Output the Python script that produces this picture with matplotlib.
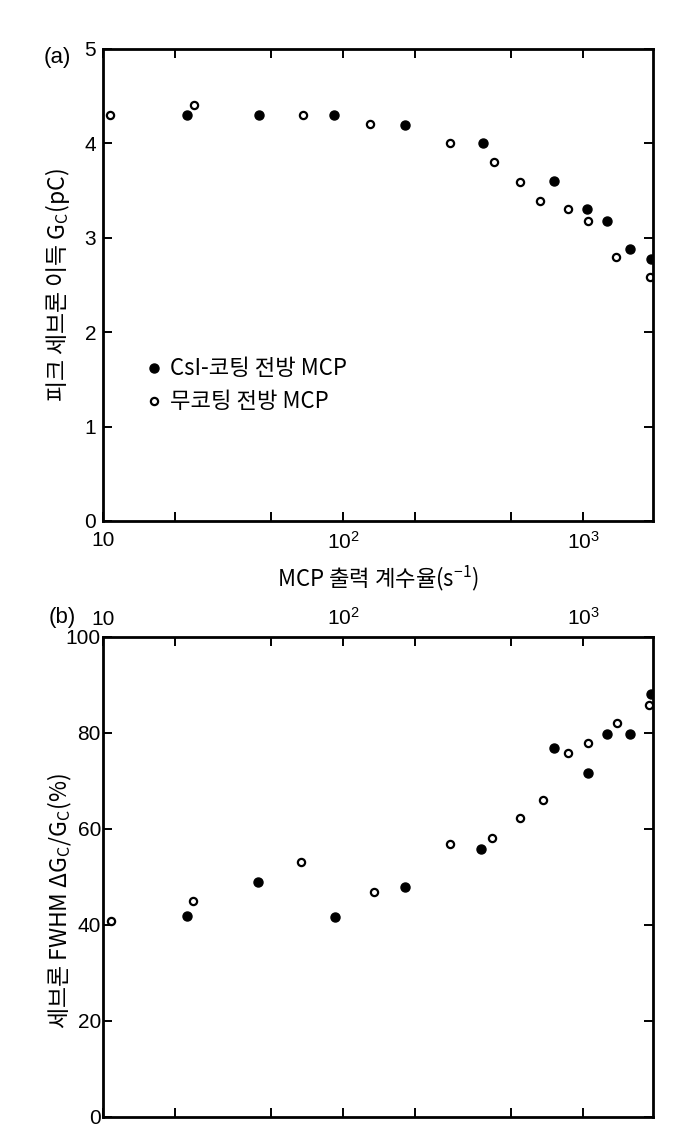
import numpy as np
import matplotlib.pyplot as plt
from matplotlib.ticker import LogLocator, NullFormatter

plt.rcParams['font.family'] = ['Liberation Sans Narrow', 'Liberation Sans', 'Noto Sans CJK KR', 'DejaVu Sans']
plt.rcParams['mathtext.default'] = 'regular'

# (a) peak gain, CsI-coated front MCP
a_csi_x = [22.3, 44.5, 92, 182, 381, 759, 1038, 1253, 1566, 1922]
a_csi_y = [4.30, 4.30, 4.30, 4.19, 4.00, 3.60, 3.30, 3.18, 2.88, 2.78]
# (a) peak gain, uncoated front MCP
a_unc_x = [10.7, 24, 68, 130, 279, 424, 548, 664, 866, 1047, 1377, 1893]
a_unc_y = [4.30, 4.41, 4.30, 4.21, 4.00, 3.80, 3.59, 3.39, 3.30, 3.18, 2.80, 2.59]

# (b) FWHM, CsI-coated front MCP
b_csi_x = [22.4, 44.2, 92.5, 182, 377, 754, 1050, 1262, 1571, 1927]
b_csi_y = [41.8, 48.9, 41.6, 47.9, 55.9, 76.9, 71.7, 79.8, 79.8, 88.2]
# (b) FWHM, uncoated front MCP
b_unc_x = [10.8, 23.7, 67, 135, 278, 417, 545, 680, 867, 1047, 1387, 1880]
b_unc_y = [40.8, 45.1, 53.1, 46.9, 56.9, 58.2, 62.2, 66.1, 75.8, 78.0, 82.1, 85.9]

xticks = [10, 100, 1000]
xticklabels = ['10', '$10^{2}$', '$10^{3}$']

W, H = 698, 1128
fig = plt.figure(figsize=(W / 100, H / 100), dpi=100)
L, R = 103, 653
ax1 = fig.add_axes([L / W, 1 - 521 / H, (R - L) / W, (521 - 49) / H])
ax2 = fig.add_axes([L / W, 1 - 1117 / H, (R - L) / W, (1117 - 637) / H])

kor = ['Noto Sans CJK KR', 'DejaVu Sans']

for ax in (ax1, ax2):
    ax.set_xscale('log')
    ax.set_xlim(10, 1955)
    ax.set_xticks(xticks, xticklabels)
    ax.xaxis.set_minor_locator(LogLocator(base=10, subs=(2.0, 5.0)))
    ax.xaxis.set_minor_formatter(NullFormatter())
    ax.tick_params(which='both', direction='in', top=True, right=True,
                   length=6.5, width=1.4, labelsize=15)
    for s in ax.spines.values():
        s.set_linewidth(2)

# panel (a)
ax1.plot(a_csi_x, a_csi_y, 'o', color='black', ms=6.5, label='CsI-코팅 전방 MCP')
ax1.plot(a_unc_x, a_unc_y, 'o', mfc='white', mec='black', mew=1.6, ms=5.2,
         label='무코팅 전방 MCP')
ax1.set_ylim(0, 5)
ax1.set_yticks([0, 1, 2, 3, 4, 5])
ax1.tick_params(axis='y', pad=5)
ax1.tick_params(axis='x', pad=7)
ax1.set_ylabel('피크 세브론 이득 G$_{C}$(pC)', family=kor, fontsize=16.5)
ax1.yaxis.set_label_coords(-0.057, 0.5)
ax1.set_xlabel('MCP 출력 계수율(s$^{-1}$)', family=kor, fontsize=16)
ax1.xaxis.set_label_coords(0.5, -0.09)
leg = ax1.legend(loc='upper left', bbox_to_anchor=(0.06, 0.37), frameon=False,
                 handlelength=0.6, handletextpad=0.45, labelspacing=0.45,
                 borderpad=0, prop={'family': kor, 'size': 16})
fig.text(57 / W, 1 - 57 / H, '(a)', fontsize=16, ha='center', va='center')

# panel (b)
ax2.plot(b_csi_x, b_csi_y, 'o', color='black', ms=6.5)
ax2.plot(b_unc_x, b_unc_y, 'o', mfc='white', mec='black', mew=1.6, ms=5.2)
ax2.set_ylim(0, 100)
ax2.set_yticks([0, 20, 40, 60, 80, 100])
ax2.tick_params(axis='x', labeltop=True, labelbottom=False, pad=6)
ax2.tick_params(axis='y', pad=1.5)
ax2.set_ylabel('세브론 FWHM ΔG$_{C}$/G$_{C}$(%)', family=kor, fontsize=16.5)
ax2.yaxis.set_label_coords(-0.053, 0.45)
fig.text(62 / W, 1 - 617 / H, '(b)', fontsize=16, ha='center', va='center')

fig.savefig('out.png', dpi=100)
